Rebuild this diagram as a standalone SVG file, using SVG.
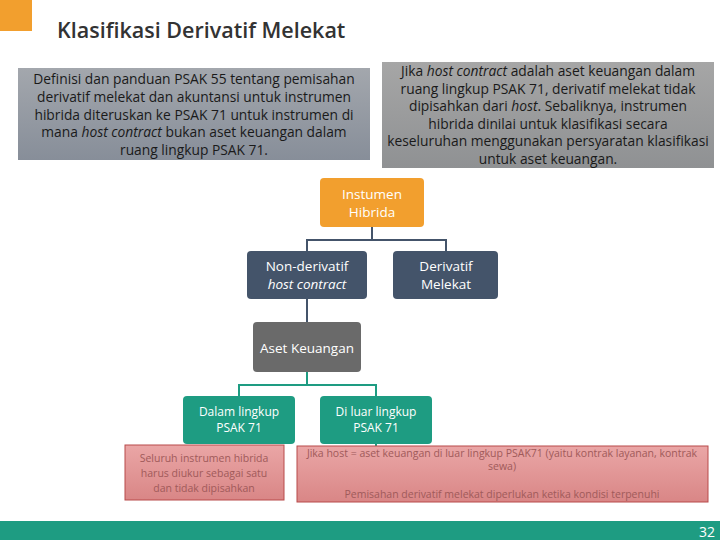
<svg xmlns="http://www.w3.org/2000/svg" width="720" height="540" viewBox="0 0 720 540">
<defs>
<linearGradient id="gGray" x1="0" y1="0" x2="0" y2="1"><stop offset="0" stop-color="#a3a7ad"/><stop offset="1" stop-color="#878e99"/></linearGradient>
<linearGradient id="gGray2" x1="0" y1="0" x2="0" y2="1"><stop offset="0" stop-color="#a6a6a6"/><stop offset="1" stop-color="#8f9193"/></linearGradient>
<linearGradient id="gPink" x1="0" y1="0" x2="0" y2="1"><stop offset="0" stop-color="#eaa6a6"/><stop offset="1" stop-color="#d98686"/></linearGradient>
<style>
text{font-family:"Open Sans","Noto Sans","Liberation Sans",sans-serif}
.t{font-size:13.8px;fill:#1a1a1a;text-anchor:middle}
.n{font-size:13.5px;fill:#ffffff;text-anchor:middle}
.p{font-size:10.5px;fill:#a05a5a;text-anchor:middle}
.c{fill:none;stroke-width:2}
</style>
</defs>
<rect x="0" y="0" width="720" height="540" fill="#ffffff"/>
<rect x="0" y="0" width="32" height="31" fill="#f29f2e"/>
<text x="57" y="38" style="font-size:21.5px;font-weight:600;fill:#333333">Klasifikasi Derivatif Melekat</text>

<g id="info-left">
<rect x="18" y="68" width="352" height="92" fill="url(#gGray)"/>
<text class="t" x="194" y="84">Definisi dan panduan PSAK 55 tentang pemisahan</text>
<text class="t" x="194" y="102">derivatif melekat dan akuntansi untuk instrumen</text>
<text class="t" x="194" y="120">hibrida diteruskan ke PSAK 71 untuk instrumen di</text>
<text class="t" x="194" y="137">mana <tspan font-style="italic">host contract</tspan> bukan aset keuangan dalam</text>
<text class="t" x="194" y="155">ruang lingkup PSAK 71.</text>
</g>
<g id="info-right">
<rect x="382" y="62" width="332" height="106" fill="url(#gGray2)"/>
<text class="t" x="548" y="76">Jika <tspan font-style="italic">host contract</tspan> adalah aset keuangan dalam</text>
<text class="t" x="548" y="94">ruang lingkup PSAK 71, derivatif melekat tidak</text>
<text class="t" x="548" y="111">dipisahkan dari <tspan font-style="italic">host</tspan>. Sebaliknya, instrumen</text>
<text class="t" x="548" y="129">hibrida dinilai untuk klasifikasi secara</text>
<text class="t" x="548" y="146">keseluruhan menggunakan persyaratan klasifikasi</text>
<text class="t" x="548" y="164">untuk aset keuangan.</text>
</g>

<g id="connectors">
<path class="c" stroke="#44546a" d="M372 227 V240 M307 251 V240 H446 V251"/>
<path class="c" stroke="#44546a" d="M307 299 V322"/>
<path class="c" stroke="#1e9c82" d="M307 372 V385 M239 396 V385 H376 V396"/>
<path class="c" stroke="#1e9c82" d="M376 444 V447"/>
</g>

<g id="node-hibrida">
<rect x="320" y="178" width="104" height="49" rx="4" fill="#f29f2e"/>
<text class="n" x="372" y="199">Instumen</text>
<text class="n" x="372" y="217">Hibrida</text>
</g>
<g id="node-nonderivatif">
<rect x="247" y="251" width="120" height="48" rx="4" fill="#44546a"/>
<text class="n" x="307" y="271">Non-derivatif</text>
<text class="n" x="307" y="289" font-style="italic">host contract</text>
</g>
<g id="node-derivatif">
<rect x="393" y="251" width="105" height="48" rx="4" fill="#44546a"/>
<text class="n" x="446" y="271">Derivatif</text>
<text class="n" x="446" y="289">Melekat</text>
</g>
<g id="node-aset">
<rect x="253" y="322" width="108" height="50" rx="4" fill="#6a6a6a"/>
<text class="n" x="307" y="353">Aset Keuangan</text>
</g>
<g id="node-dalam">
<rect x="183" y="396" width="112" height="48" rx="4" fill="#1e9c82"/>
<text class="n" x="239" y="416" style="font-size:12px">Dalam lingkup</text>
<text class="n" x="239" y="432" style="font-size:12px">PSAK 71</text>
</g>
<g id="node-luar">
<rect x="320" y="396" width="112" height="48" rx="4" fill="#1e9c82"/>
<text class="n" x="376" y="416" style="font-size:12px">Di luar lingkup</text>
<text class="n" x="376" y="432" style="font-size:12px">PSAK 71</text>
</g>
<g id="note-left">
<rect x="125" y="445" width="159" height="55" fill="url(#gPink)" stroke="#b84a4a" stroke-width="1"/>
<text class="p" x="204" y="462">Seluruh instrumen hibrida</text>
<text class="p" x="204" y="477">harus diukur sebagai satu</text>
<text class="p" x="204" y="492">dan tidak dipisahkan</text>
</g>
<g id="note-right">
<rect x="297" y="446" width="411" height="56" fill="url(#gPink)" stroke="#b84a4a" stroke-width="1"/>
<text class="p" x="502" y="457">Jika host = aset keuangan di luar lingkup PSAK71 (yaitu kontrak layanan, kontrak</text>
<text class="p" x="502" y="470">sewa)</text>
<text class="p" x="502" y="498">Pemisahan derivatif melekat diperlukan ketika kondisi terpenuhi</text>
</g>

<rect x="0" y="521" width="720" height="19" fill="#1e9c82"/>
<text x="715" y="537" style="font-size:14px;fill:#ffffff;text-anchor:end">32</text>
</svg>
